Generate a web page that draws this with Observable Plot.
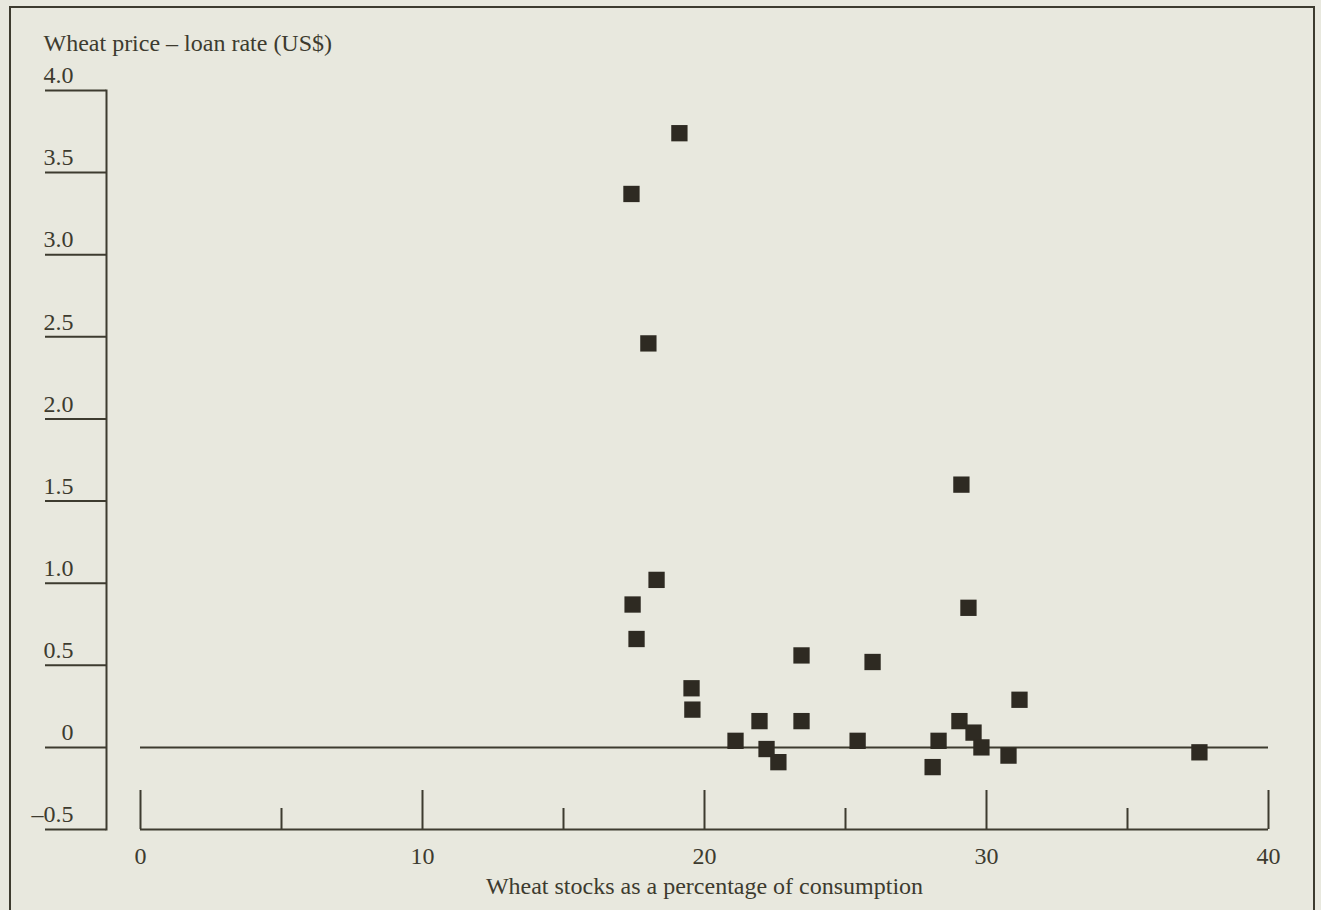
<!DOCTYPE html>
<html>
<head>
<meta charset="utf-8">
<script src="https://cdn.jsdelivr.net/npm/d3@7"></script>
<script src="https://cdn.jsdelivr.net/npm/@observablehq/plot@0.6"></script>
<style>
  html, body { margin: 0; padding: 0; background: #e8e8de; }
  #wrap { position: relative; width: 1321px; height: 910px; overflow: hidden; }
  #border { position: absolute; left: 9px; top: 6px; width: 1306px; height: 1000px;
            border: 2px solid #3d3b2f; border-bottom: none; box-sizing: border-box; }
  #chart { position: absolute; left: 0; top: 0; }
</style>
</head>
<body>
<div id="wrap"><div id="border"></div><div id="chart"></div></div>
<script>
// Wheat stocks (% of consumption) vs. wheat price minus loan rate (US$)
const stocksPct = [19.11, 17.41, 18.01, 18.30, 17.45, 17.59, 19.54, 19.57, 21.10, 21.95,
                   22.20, 22.62, 23.44, 23.44, 25.43, 25.96, 28.09, 28.30, 29.11, 29.36,
                   29.04, 29.54, 29.82, 30.78, 31.17, 37.55];
const priceMinusLoan = [3.74, 3.37, 2.46, 1.02, 0.87, 0.66, 0.36, 0.23, 0.04, 0.16,
                        -0.01, -0.09, 0.56, 0.16, 0.04, 0.52, -0.12, 0.04, 1.60, 0.85,
                        0.16, 0.09, 0.00, -0.05, 0.29, -0.03];

const xDomain = [0, 40];
const yDomain = [-0.5, 4];
const xMajorTicks = [0, 10, 20, 30, 40];
const xMinorTicks = [5, 15, 25, 35];
const yTicks = [-0.5, 0, 0.5, 1, 1.5, 2, 2.5, 3, 3.5, 4];
const yTickLabels = ["–0.5", "0", "0.5", "1.0", "1.5", "2.0", "2.5", "3.0", "3.5", "4.0"];
const yTitle = "Wheat price – loan rate (US$)";
const xTitle = "Wheat stocks as a percentage of consumption";

const ink = "#3d3b2f";
const markerFill = "#2e2a22";

const points = stocksPct.map((s, i) => ({stocks: s, price: priceMinusLoan[i]}));
const yLabelOf = new Map(yTicks.map((t, i) => [t, yTickLabels[i]]));

const chart = Plot.plot({
  width: 1321,
  height: 910,
  marginLeft: 106,
  marginRight: 53,
  marginTop: 90,
  marginBottom: 81,
  style: {background: "transparent", fontFamily: "'Liberation Serif', 'Times New Roman', serif", fontSize: "24px", color: ink},
  x: {domain: xDomain, range: [140, 1268]},
  y: {domain: yDomain},
  marks: [
    // vertical axis line
    Plot.frame({anchor: "left", stroke: ink, strokeWidth: 2}),
    // long horizontal y ticks, labels sitting on top of them
    Plot.axisY(yTicks, {tickSize: 61, fill: "none", stroke: ink, strokeWidth: 2, label: null}),
    Plot.axisY(yTicks, {stroke: "none", tickSize: 0, tickPadding: 33, dy: -15, fill: ink,
                        tickFormat: d => yLabelOf.get(d), label: null}),
    // x axis baseline with upward ticks
    Plot.ruleY([yDomain[0]], {x1: xDomain[0], x2: xDomain[1], stroke: ink, strokeWidth: 2}),
    Plot.axisX(xMajorTicks, {tickSize: -39, fill: "none", stroke: ink, strokeWidth: 2, label: null}),
    Plot.axisX(xMinorTicks, {tickSize: -21, fill: "none", stroke: ink, strokeWidth: 2, label: null}),
    Plot.axisX(xMajorTicks, {stroke: "none", tickSize: 0, tickPadding: 17, fill: ink,
                             tickFormat: d => String(d), label: null}),
    // zero reference line
    Plot.ruleY([0], {x1: xDomain[0], x2: xDomain[1], stroke: ink, strokeWidth: 2}),
    // observations
    Plot.dot(points, {x: "stocks", y: "price", symbol: "square", r: 9.2, fill: markerFill, stroke: "none"}),
    // titles
    Plot.text([yTitle], {frameAnchor: "top-left", textAnchor: "start", lineAnchor: "top",
                         dx: -63, dy: -57, fill: ink}),
    Plot.text([xTitle], {x: () => d3.mean(xDomain), frameAnchor: "bottom", textAnchor: "middle",
                         lineAnchor: "top", dy: 47, fill: ink})
  ]
});
document.getElementById("chart").appendChild(chart);
</script>
</body>
</html>
